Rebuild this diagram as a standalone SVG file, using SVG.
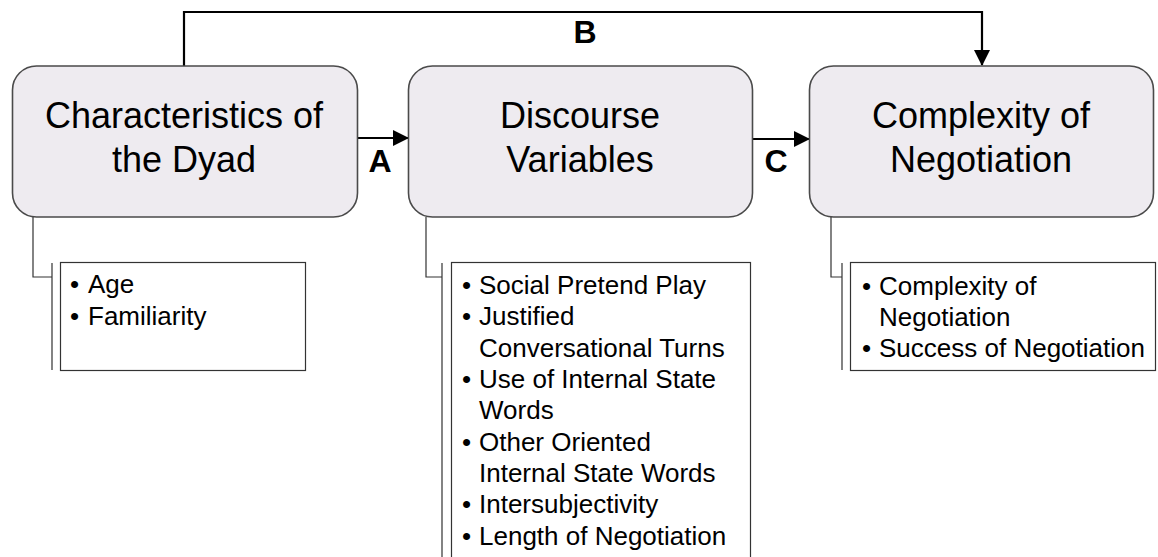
<svg xmlns="http://www.w3.org/2000/svg" width="1158" height="557" viewBox="0 0 1158 557">
<defs>
<style>
.box{fill:#EEEBF0;stroke:#4a4a4a;stroke-width:1.6}
.title{font-family:"Liberation Sans",Arial,sans-serif;font-size:36px;fill:#000;text-anchor:middle}
.lbl{font-family:"Liberation Sans",Arial,sans-serif;font-size:32px;font-weight:bold;fill:#000;text-anchor:middle}
.list{fill:#fff;stroke:#333;stroke-width:1.2}
.br{fill:none;stroke:#333;stroke-width:1.2}
.item{font-family:"Liberation Sans",Arial,sans-serif;font-size:26px;fill:#000}
.con{fill:none;stroke:#000;stroke-width:2.2}
</style>
<marker id="ah" markerWidth="16" markerHeight="16" refX="15" refY="8" orient="auto" markerUnits="userSpaceOnUse">
<path d="M0,0 L16,8 L0,16 Z" fill="#000"/>
</marker>
</defs>
<rect width="1158" height="557" fill="#fff"/>
<g id="connectors">
<path class="con" d="M184,66 V12 H982 V65" marker-end="url(#ah)"/>
<path class="con" d="M357,138 H408" marker-end="url(#ah)"/>
<path class="con" d="M752,139 H809" marker-end="url(#ah)"/>
<text class="lbl" x="585" y="43">B</text>
<text class="lbl" x="380" y="172">A</text>
<text class="lbl" x="776" y="172">C</text>
</g>
<g id="node-dyad">
<rect class="box" x="12.5" y="66" width="345" height="151" rx="24"/>
<text class="title" x="184" y="128">Characteristics of</text>
<text class="title" x="184" y="172">the Dyad</text>
</g>
<g id="node-discourse">
<rect class="box" x="408.5" y="66" width="344" height="151" rx="24"/>
<text class="title" x="580" y="128">Discourse</text>
<text class="title" x="580" y="172">Variables</text>
</g>
<g id="node-complexity">
<rect class="box" x="809.5" y="66" width="344" height="151" rx="24"/>
<text class="title" x="981" y="128">Complexity of</text>
<text class="title" x="981" y="172">Negotiation</text>
</g>
<g id="list-dyad">
<path class="br" d="M33,217 V277 H52 M52,263 V370"/>
<rect class="list" x="60.5" y="262.5" width="245" height="108"/>
<text class="item" x="70" y="293">•</text><text class="item" x="88" y="293">Age</text>
<text class="item" x="70" y="325">•</text><text class="item" x="88" y="325">Familiarity</text>
</g>
<g id="list-discourse">
<path class="br" d="M426,217 V277 H442 M442,263 V560"/>
<rect class="list" x="451.5" y="262.5" width="299" height="300"/>
<g class="item">
<text x="462" y="294">•</text><text x="479" y="294">Social Pretend Play</text>
<text x="462" y="325">•</text><text x="479" y="325">Justified</text>
<text x="479" y="357">Conversational Turns</text>
<text x="462" y="388">•</text><text x="479" y="388">Use of Internal State</text>
<text x="479" y="419">Words</text>
<text x="462" y="451">•</text><text x="479" y="451">Other Oriented</text>
<text x="479" y="482">Internal State Words</text>
<text x="462" y="513">•</text><text x="479" y="513">Intersubjectivity</text>
<text x="462" y="545">•</text><text x="479" y="545">Length of Negotiation</text>
</g>
</g>
<g id="list-complexity">
<path class="br" d="M831,217 V277 H842 M842,263 V370"/>
<rect class="list" x="850.5" y="262.5" width="305" height="108"/>
<g class="item">
<text x="862" y="295">•</text><text x="879" y="295">Complexity of</text>
<text x="879" y="326">Negotiation</text>
<text x="862" y="357">•</text><text x="879" y="357">Success of Negotiation</text>
</g>
</g>
</svg>
